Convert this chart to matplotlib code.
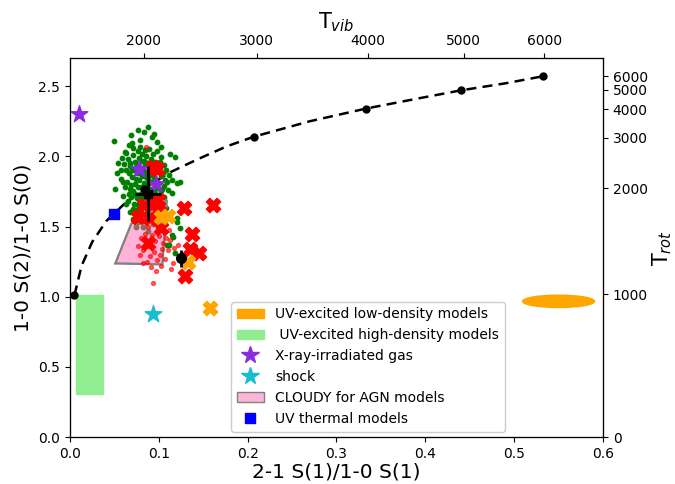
import matplotlib
matplotlib.use("Agg")
import matplotlib.pyplot as plt
from matplotlib.patches import Patch, Rectangle, Ellipse, Polygon
from matplotlib.lines import Line2D

# LTE curve (x = 2-1 S(1)/1-0 S(1), y = 1-0 S(2)/1-0 S(0))
curve_x = [0.005, 0.013, 0.025, 0.041, 0.061, 0.083, 0.114, 0.144, 0.176, 0.207,
           0.270, 0.333, 0.390, 0.440, 0.490, 0.532]
curve_y = [1.01, 1.22, 1.39, 1.54, 1.66, 1.77, 1.89, 1.98, 2.07, 2.14,
           2.25, 2.34, 2.41, 2.47, 2.52, 2.57]
# dots on the curve at T = 1000 ... 6000 K
lte_x = [0.005, 0.083, 0.207, 0.333, 0.440, 0.532]
lte_y = [1.01, 1.77, 2.14, 2.34, 2.47, 2.57]

# top axis (T_vib) and right axis (T_rot) ticks
tvib_pos = [0.083, 0.210, 0.335, 0.443, 0.534]
tvib_lab = ["2000", "3000", "4000", "5000", "6000"]
trot_pos = [0.0, 1.016, 1.771, 2.132, 2.336, 2.476, 2.571]
trot_lab = ["0", "1000", "2000", "3000", "4000", "5000", "6000"]

# green cloud (small points)
green_pts = [
    (0.088, 2.206), (0.069, 2.151), (0.049, 2.108), (0.079, 2.115), (0.092, 2.135),
    (0.095, 2.16), (0.103, 2.068), (0.113, 2.02), (0.118, 1.996), (0.124, 1.82),
    (0.120, 1.807), (0.1145, 1.83), (0.054, 1.95), (0.053, 1.878), (0.051, 1.77),
    (0.062, 2.03), (0.071, 2.056), (0.0845, 2.044), (0.094, 2.02), (0.101, 1.96),
    (0.1145, 1.736), (0.120, 1.558), (0.124, 1.486), (0.1145, 1.44), (0.111, 1.37),
    (0.118, 1.31), (0.128, 1.225), (0.120, 1.533), (0.116, 1.427), (0.109, 1.367),
    (0.076, 2.19), (0.083, 2.17), (0.098, 2.10), (0.066, 2.08), (0.058, 1.99),
    (0.108, 1.90), (0.112, 1.87), (0.106, 1.79), (0.110, 1.76), (0.057, 1.84),
    (0.060, 1.72), (0.063, 1.66), (0.067, 1.60), (0.071, 1.55), (0.074, 1.50),
    (0.108, 1.63), (0.113, 1.59), (0.107, 1.52),
    (0.065, 1.98), (0.068, 1.93), (0.066, 1.88), (0.064, 1.82), (0.067, 1.77),
    (0.069, 1.71), (0.072, 1.66), (0.074, 1.62), (0.071, 2.01), (0.073, 1.96),
    (0.072, 1.90), (0.070, 1.85), (0.073, 1.80), (0.071, 1.75), (0.075, 1.70),
    (0.077, 1.65), (0.076, 2.04), (0.078, 1.99), (0.077, 1.94), (0.076, 1.88),
    (0.078, 1.83), (0.076, 1.78), (0.079, 1.73), (0.080, 1.68), (0.078, 1.61),
    (0.081, 2.02), (0.083, 1.97), (0.082, 1.92), (0.081, 1.86), (0.083, 1.81),
    (0.082, 1.76), (0.084, 1.71), (0.083, 1.64), (0.081, 1.58), (0.086, 2.00),
    (0.087, 1.95), (0.086, 1.89), (0.088, 1.84), (0.087, 1.79), (0.086, 1.74),
    (0.088, 1.68), (0.087, 1.62), (0.085, 1.55), (0.091, 1.98), (0.092, 1.93),
    (0.090, 1.87), (0.092, 1.82), (0.091, 1.77), (0.093, 1.71), (0.092, 1.64),
    (0.090, 1.59), (0.096, 1.96), (0.097, 1.90), (0.095, 1.85), (0.097, 1.79),
    (0.096, 1.74), (0.098, 1.68), (0.096, 1.62), (0.101, 1.92), (0.102, 1.86),
    (0.100, 1.81), (0.103, 1.75), (0.101, 1.70), (0.104, 1.64), (0.100, 1.58),
    (0.105, 1.88), (0.107, 1.83), (0.104, 1.77), (0.106, 1.71),
    (0.0675, 1.955), (0.0695, 1.905), (0.0685, 1.795), (0.0665, 1.735), (0.0745, 1.925),
    (0.0745, 1.835), (0.0735, 1.735), (0.0795, 1.965), (0.0805, 1.895), (0.0795, 1.785),
    (0.0805, 1.705), (0.0845, 1.935), (0.0855, 1.855), (0.0845, 1.765), (0.0895, 1.905),
    (0.0895, 1.815), (0.0905, 1.735), (0.0945, 1.955), (0.0935, 1.875), (0.0945, 1.765),
    (0.0995, 1.885), (0.0985, 1.775), (0.0985, 1.705), (0.0625, 1.905), (0.0615, 1.785),
    (0.0655, 1.685), (0.0705, 1.625), (0.0755, 1.585), (0.0805, 1.545), (0.0955, 1.565),
    (0.1025, 1.545), (0.0605, 1.945), (0.0635, 2.025), (0.0575, 1.905), (0.0595, 1.815),
    (0.1055, 1.935), (0.1095, 1.815), (0.1025, 1.995), (0.0885, 2.055), (0.0785, 2.065),
    (0.0695, 2.095), (0.0985, 2.035),
    (0.082, 1.50), (0.088, 1.47), (0.094, 1.52), (0.099, 1.49), (0.077, 1.53),
]
green_x = [p[0] for p in green_pts]
green_y = [p[1] for p in green_pts]

# small red points
red_small_x = [0.093, 0.087, 0.079, 0.086, 0.111, 0.113, 0.122, 0.117, 0.114, 0.116,
               0.082, 0.090, 0.095, 0.098, 0.101, 0.096, 0.092, 0.084, 0.088, 0.100,
               0.105, 0.108, 0.104, 0.091, 0.097, 0.099, 0.094, 0.085, 0.080, 0.076,
               0.107, 0.110, 0.089, 0.102, 0.082]
red_small_y = [1.10, 1.25, 1.30, 2.07, 1.474, 1.403, 1.367, 1.35, 1.20, 1.237,
               1.33, 1.29, 1.32, 1.26, 1.30, 1.40, 1.44, 1.45, 1.50, 1.43,
               1.38, 1.42, 1.34, 1.21, 1.18, 1.55, 1.58, 1.56, 1.42, 1.36,
               1.27, 1.33, 1.36, 1.22, 1.24]

# big red crosses
red_x = [0.093, 0.098, 0.077, 0.083, 0.094, 0.099, 0.090, 0.100, 0.103,
         0.088, 0.128, 0.161, 0.137, 0.135, 0.145, 0.129]
red_y = [1.925, 1.91, 1.57, 1.65, 1.67, 1.69, 1.56, 1.60, 1.49,
         1.38, 1.63, 1.65, 1.45, 1.34, 1.31, 1.15]

# orange crosses
orange_x = [0.103, 0.110, 0.133, 0.158]
orange_y = [1.57, 1.575, 1.249, 0.921]

# model markers
xray_x = [0.010, 0.078, 0.097]
xray_y = [2.30, 1.91, 1.80]
shock_x = [0.093]
shock_y = [0.874]
uvth_x = [0.050]
uvth_y = [1.59]

# black points with error bars
blk_x = [0.088, 0.125]
blk_y = [1.735, 1.273]
blk_xerr = [0.015, 0.0]
blk_yerr = [0.195, 0.06]

# model regions
cloudy_poly = [(0.051, 1.237), (0.069, 1.52), (0.109, 1.69), (0.104, 1.23)]
uvhigh_x0, uvhigh_y0, uvhigh_w, uvhigh_h = 0.0065, 0.31, 0.031, 0.70
uvlow_cx, uvlow_cy, uvlow_w, uvlow_h = 0.550, 0.967, 0.081, 0.088

fig = plt.figure(figsize=(6.75, 4.84), dpi=100)
ax = fig.add_axes([0.1037, 0.097, 0.7896, 0.783])

ax.add_patch(Rectangle((uvhigh_x0, uvhigh_y0), uvhigh_w, uvhigh_h,
                       color="lightgreen", zorder=1))
ax.add_patch(Ellipse((uvlow_cx, uvlow_cy), uvlow_w, uvlow_h, color="orange", zorder=1))

ax.plot(curve_x, curve_y, "k--", lw=1.8, dashes=(4, 2.5), zorder=2)
ax.plot(lte_x, lte_y, "ko", ms=5, zorder=3)

ax.scatter(green_x, green_y, s=10, color="green", zorder=2)
ax.add_patch(Polygon(cloudy_poly, closed=True, facecolor="hotpink", alpha=0.5,
                     edgecolor="gray", lw=1.5, zorder=3))
ax.add_patch(Polygon(cloudy_poly, closed=True, fill=False,
                     edgecolor="gray", lw=1.5, zorder=3))
ax.scatter(red_small_x, red_small_y, s=8, color="red", alpha=0.6, zorder=4)
ax.scatter(red_x, red_y, s=105, marker="X", color="red", zorder=5)
ax.scatter(orange_x, orange_y, s=105, marker="X", color="orange", zorder=6)

ax.scatter(xray_x, xray_y, s=160, marker="*", color="blueviolet", zorder=7)
ax.scatter(shock_x, shock_y, s=160, marker="*", color="tab:cyan", zorder=7)
ax.scatter(uvth_x, uvth_y, s=50, marker="s", color="blue", zorder=7)

ax.errorbar(blk_x[:1], blk_y[:1], xerr=blk_xerr[:1], yerr=blk_yerr[:1],
            fmt="s", color="black", ms=6, elinewidth=2, zorder=8)
ax.errorbar(blk_x[1:], blk_y[1:], yerr=blk_yerr[1:],
            fmt="o", color="black", ms=7, elinewidth=2, zorder=8)

ax.set_xlim(0, 0.6)
ax.set_ylim(0, 2.7)
ax.set_xlabel("2-1 S(1)/1-0 S(1)", fontsize=14.5, labelpad=1)
ax.set_ylabel("1-0 S(2)/1-0 S(0)", fontsize=14.5)

top = ax.twiny()
top.set_xlim(ax.get_xlim())
top.set_xticks(tvib_pos)
top.set_xticklabels(tvib_lab)
top.set_xlabel(r"T$_{vib}$", fontsize=15)

right = ax.twinx()
right.set_ylim(ax.get_ylim())
right.set_yticks(trot_pos)
right.set_yticklabels(trot_lab)
right.set_ylabel(r"T$_{rot}$", fontsize=15, labelpad=2)

handles = [
    Patch(color="orange", label="UV-excited low-density models"),
    Patch(color="lightgreen", label=" UV-excited high-density models"),
    Line2D([], [], marker="*", ls="", ms=13, color="blueviolet", label="X-ray-irradiated gas"),
    Line2D([], [], marker="*", ls="", ms=13, color="tab:cyan", label="shock"),
    Patch(facecolor="#ffb4da", edgecolor="gray", label="CLOUDY for AGN models"),
    Line2D([], [], marker="s", ls="", ms=7, color="blue", label="UV thermal models"),
]
ax.legend(handles=handles, loc="upper left", bbox_to_anchor=(0.289, 0.375),
          fontsize=10, framealpha=1).set_zorder(10)

fig.savefig("out.png", dpi=100)
